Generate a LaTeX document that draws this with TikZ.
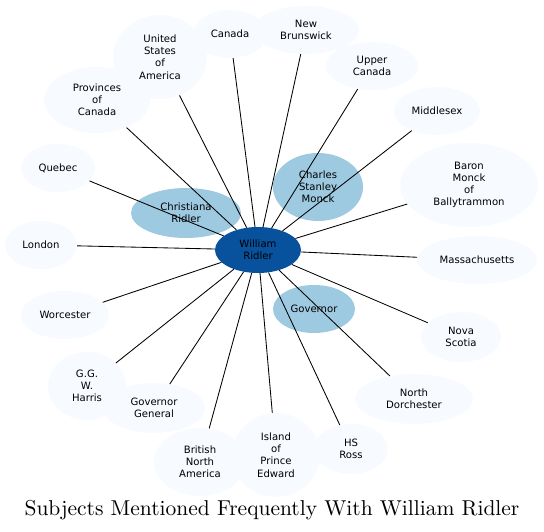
\documentclass[tikz,border=0pt]{standalone}
\usepackage{fontspec}
\usetikzlibrary{shapes.geometric}
\newfontfamily\labelfont{DejaVu Sans}
\newfontfamily\titlefont{lmroman10-regular}[Extension=.otf]
\definecolor{centercolor}{RGB}{8,81,156}
\definecolor{midcolor}{RGB}{158,202,225}
\definecolor{palecolor}{RGB}{247,251,255}

\begin{document}
\begin{tikzpicture}[%
    x=1pt, y=-1pt,              % pixel-like coordinates, y going down
    ]
\tikzset{
  base/.style={ellipse, inner sep=0pt, align=center,
    font=\labelfont\fontsize{10.1}{12.2}\selectfont},
  subj/.style={base, fill=palecolor},
  near/.style={base, fill=midcolor},
  hub/.style={base, fill=centercolor},
  link/.style={draw, line width=0.85pt},
}
\useasboundingbox (0,0) rectangle (544,532);

% outer subjects
\node [subj, minimum width=94, minimum height=84] (usa) at (160,57) {United\\States\\of\\America};
\node [subj, minimum width=74, minimum height=48] (canada) at (230,34) {Canada};
\node [subj, minimum width=106, minimum height=48] (newbr) at (306,30) {New\\Brunswick};
\node [subj, minimum width=92, minimum height=48] (upper) at (372,66) {Upper\\Canada};
\node [subj, minimum width=86, minimum height=48] (middlesex) at (437,111) {Middlesex};
\node [subj, minimum width=138, minimum height=84] (baron) at (469,185) {Baron\\Monck\\of\\Ballytrammon};
\node [subj, minimum width=106, minimum height=66] (provinces) at (97,100) {Provinces\\of\\Canada};
\node [subj, minimum width=74, minimum height=48] (quebec) at (58,168) {Quebec};
\node [subj, minimum width=72, minimum height=48] (london) at (41,245) {London};
\node [subj, minimum width=120, minimum height=48] (mass) at (477,260) {Massachusetts};
\node [subj, minimum width=88, minimum height=48] (worcester) at (65,315) {Worcester};
\node [subj, minimum width=80, minimum height=50] (nova) at (461,337) {Nova\\Scotia};
\node [subj, minimum width=78, minimum height=68] (harris) at (87,386) {G.G.\\W.\\Harris};
\node [subj, minimum width=102, minimum height=50] (govgen) at (154,408) {Governor\\General};
\node [subj, minimum width=118, minimum height=50] (dorchester) at (414,399) {North\\Dorchester};
\node [subj, minimum width=92, minimum height=68] (bna) at (200,462) {British\\North\\America};
\node [subj, minimum width=88, minimum height=84] (island) at (276,455) {Island\\of\\Prince\\Edward};
\node [subj, minimum width=74, minimum height=50] (ross) at (351,449) {HS\\Ross};

% closer subjects
\node [near, minimum width=110, minimum height=50] (christiana) at (186,213) {Christiana\\Ridler};
\node [near, minimum width=90, minimum height=68] (monck) at (318,187) {Charles\\Stanley\\Monck};
\node [near, minimum width=82, minimum height=48] (governor) at (314,309) {Governor};

\node [hub, minimum width=86, minimum height=46] (ridler) at (258,250) {William\\Ridler};

% connectors
\foreach \n in {usa,canada,newbr,upper,middlesex,baron,provinces,quebec,london,mass,
                worcester,nova,harris,govgen,dorchester,bna,island,ross}
  \draw [link] (ridler) -- (\n);

\node (title) at (272,510) {\titlefont\fontsize{21.5}{25}\selectfont Subjects Mentioned Frequently With William Ridler};
\end{tikzpicture}
\end{document}
